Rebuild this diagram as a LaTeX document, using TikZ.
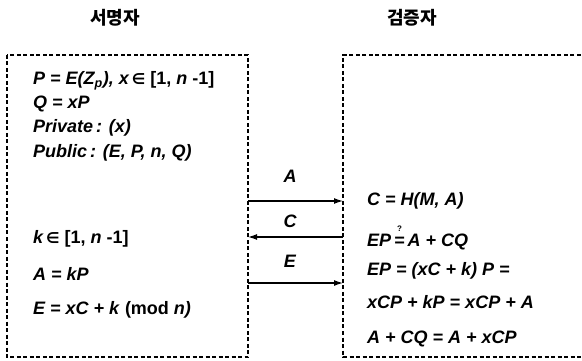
\documentclass[tikz,border=0pt]{standalone}
\usepackage{fontspec}
\setmainfont{Liberation Sans}
\newfontfamily\krfont{Noto Sans CJK KR}
\newfontfamily\symfont{DejaVu Sans}
\usetikzlibrary{arrows.meta}
\newcommand\elem{{\symfont\bfseries\upshape\fontsize{15}{17}\selectfont ∈}}
\newcommand\qeq{\ooalign{\hfil\raisebox{0.8em}{\fontsize{8}{8}\selectfont\upshape ?}\hfil\cr=\cr}}
\tikzset{
  box/.style={draw=black, line width=1.1pt, dash pattern=on 4pt off 2.5pt},
  txt/.style={anchor=west, inner sep=0pt, font=\fontsize{18}{20}\selectfont\bfseries\itshape},
  title/.style={inner sep=0pt, font=\fontsize{18}{20}\selectfont\krfont\bfseries},
  arr/.style={line width=1.2pt, -{Latex[length=9pt,width=6pt]}},
  lbl/.style={inner sep=0pt, font=\fontsize{18}{20}\selectfont\bfseries\itshape}
}
\begin{document}
\begin{tikzpicture}[x=1pt,y=-1pt]
\useasboundingbox (0,0) rectangle (582,361);
\clip (0,0) rectangle (582,361);
% titles
\node[title] (t1) at (115,18) {서명자};
\node[title] (t2) at (412,18) {검증자};
% boxes
\draw[box] (7,55) rectangle (248,357);
\draw[box] (600,55) -- (343,55) -- (343,357) -- (600,357);
% signer text
\node[txt] (s1) at (33,81) {P = E(Z\textsubscript{p}), x\,\elem{} \textup{[1,} n \textup{-1]}};
\node[txt] (s2) at (33,104) {Q = xP};
\node[txt] (s3) at (33,128) {Private\,: (x)};
\node[txt] (s4) at (33,153) {Public\,: (E, P, n, Q)};
\node[txt] (s5) at (33,239) {k\,\elem{} \textup{[1,} n \textup{-1]}};
\node[txt] (s6) at (33,274) {A = kP};
\node[txt] (s7) at (33,310) {E = xC + k \textup{(mod} n)};
% verifier text
\node[txt] (v1) at (367,201) {C = H(M, A)};
\node[txt] (v2) at (367,238) {EP\,\qeq\,A + CQ};
\node[txt] (v3) at (367,271) {EP = (xC + k) P =};
\node[txt] (v4) at (367,302) {xCP + kP = xCP + A};
\node[txt] (v5) at (367,339) {A + CQ = A + xCP};
% arrows
\coordinate (aL) at (248,201);
\coordinate (aR) at (343,201);
\coordinate (cL) at (248,237);
\coordinate (cR) at (343,237);
\coordinate (eL) at (248,283);
\coordinate (eR) at (343,283);
\draw[arr] (aL) -- (aR);
\draw[arr] (cR) -- (cL);
\draw[arr] (eL) -- (eR);
\node[lbl] (la) at (290,176) {A};
\node[lbl] (lc) at (290,221) {C};
\node[lbl] (le) at (290,261) {E};
\end{tikzpicture}
\end{document}
